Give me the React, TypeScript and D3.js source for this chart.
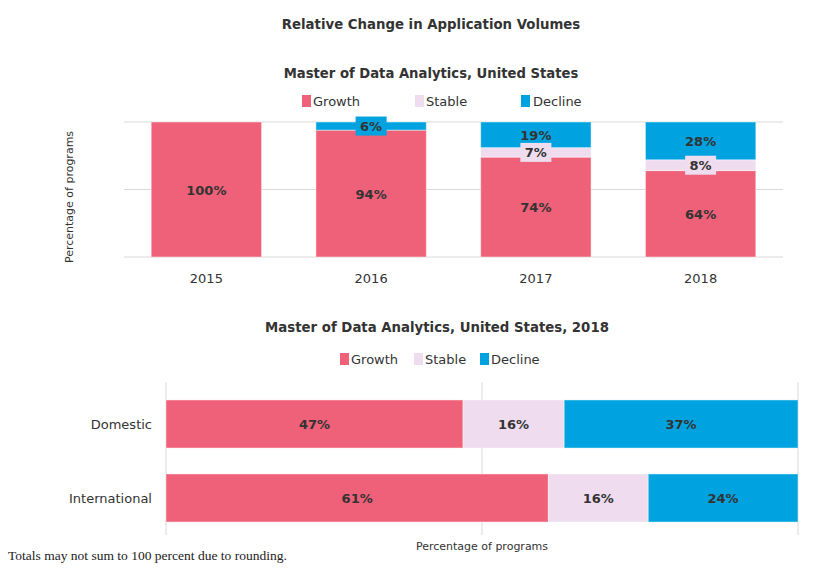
import React from "react";
import * as d3 from "d3";

const years = ["2015", "2016", "2017", "2018"];
const growthByYear = [100, 94, 74, 64];
const stableByYear = [0, 0, 7, 8];
const declineByYear = [0, 6, 19, 28];

const origins = ["Domestic", "International"];
const growthByOrigin = [47, 60.5];
const stableByOrigin = [16, 15.8];
const declineByOrigin = [37, 23.7];

const seriesNames = ["Growth", "Stable", "Decline"];
const colors = ["#EF6178", "#EFDCEF", "#00A3E0"];
const gridTicks = [0, 50, 100];

const FONT = "'DejaVu Sans', Verdana, sans-serif";
const TEXT = "#333333";

export default function App() {
  const W = 831, H = 573;

  // top chart
  const x1 = d3.scaleBand<string>().domain(years).range([124, 783]).paddingInner(0.33).paddingOuter(0.165);
  const y1 = d3.scaleLinear().domain([0, 100]).range([257, 122]);
  const topTable = years.map((yr, i) => ({ key: yr, Growth: growthByYear[i], Stable: stableByYear[i], Decline: declineByYear[i] }));
  const topStack = d3.stack<any>().keys(seriesNames)(topTable);

  // bottom chart
  const x2 = d3.scaleLinear().domain([0, 100]).range([166, 798]);
  const y2 = d3.scaleBand<string>().domain(origins).range([387, 535]).paddingInner(0.35).paddingOuter(0.175);
  const botTable = origins.map((o, i) => ({ key: o, Growth: growthByOrigin[i], Stable: stableByOrigin[i], Decline: declineByOrigin[i] }));
  const botStack = d3.stack<any>().keys(seriesNames)(botTable);

  const legendTop = [
    { x: 302, tx: 313 },
    { x: 415, tx: 426 },
    { x: 521, tx: 533 },
  ];
  const legendBot = [
    { x: 340, tx: 351 },
    { x: 414, tx: 425 },
    { x: 480, tx: 491 },
  ];

  return (
    <svg width={W} height={H} style={{ position: "absolute", left: 0, top: 0 }} fontFamily={FONT}>
      <rect width={W} height={H} fill="#fff" />
      <text x={431} y={29} textAnchor="middle" fontWeight="bold" fontSize={13.3} fill={TEXT}>
        Relative Change in Application Volumes
      </text>
      <text x={431} y={78} textAnchor="middle" fontWeight="bold" fontSize={13.2} fill={TEXT}>
        Master of Data Analytics, United States
      </text>
      {seriesNames.map((s, i) => (
        <g key={s}>
          <rect x={legendTop[i].x} y={95} width={9} height={12} fill={colors[i]} />
          <text x={legendTop[i].tx} y={106} fontSize={13} fill={TEXT}>{s}</text>
        </g>
      ))}
      {gridTicks.map((t) => (
        <line key={t} x1={124} x2={783} y1={y1(t)} y2={y1(t)} stroke="#d9d9d9" strokeWidth={1} />
      ))}
      <text transform={`translate(73,197) rotate(-90)`} textAnchor="middle" fontSize={11} fill={TEXT}>
        Percentage of programs
      </text>
      {topStack.map((layer, si) =>
        layer.map((d, i) => {
          const v = d[1] - d[0];
          if (v <= 0) return null;
          return (
            <rect key={`${si}-${i}`} x={x1(years[i])!} width={x1.bandwidth()} y={y1(d[1])} height={y1(d[0]) - y1(d[1])}
              fill={colors[si]} stroke="#ffffff" strokeOpacity={0.45} strokeWidth={1} />
          );
        })
      )}
      {topStack.map((layer, si) =>
        layer.map((d, i) => {
          const v = d[1] - d[0];
          if (v <= 0) return null;
          const cx = x1(years[i])! + x1.bandwidth() / 2;
          const cy = (y1(d[0]) + y1(d[1])) / 2;
          const label = `${Math.round(v)}%`;
          return (
            <g key={`l${si}-${i}`}>
              {v < 10 && <rect x={cx - 15.5} y={cy - 9.5} width={31} height={19} fill={colors[si]} />}
              <text x={cx} y={cy + 5} textAnchor="middle" fontWeight="bold" fontSize={13} fill={TEXT}>{label}</text>
            </g>
          );
        })
      )}
      {years.map((yr) => (
        <text key={yr} x={x1(yr)! + x1.bandwidth() / 2} y={283} textAnchor="middle" fontSize={13} fill={TEXT}>{yr}</text>
      ))}

      <text x={437} y={332} textAnchor="middle" fontWeight="bold" fontSize={13.3} fill={TEXT}>
        Master of Data Analytics, United States, 2018
      </text>
      {seriesNames.map((s, i) => (
        <g key={`b${s}`}>
          <rect x={legendBot[i].x} y={353} width={9} height={12} fill={colors[i]} />
          <text x={legendBot[i].tx} y={364} fontSize={13} fill={TEXT}>{s}</text>
        </g>
      ))}
      {gridTicks.map((t) => (
        <line key={`v${t}`} x1={x2(t)} x2={x2(t)} y1={382} y2={535} stroke="#d9d9d9" strokeWidth={1} />
      ))}
      {botStack.map((layer, si) =>
        layer.map((d, i) => (
          <rect key={`b${si}-${i}`} x={x2(d[0])} width={x2(d[1]) - x2(d[0])} y={y2(origins[i])!} height={y2.bandwidth()}
            fill={colors[si]} stroke="#ffffff" strokeOpacity={0.45} strokeWidth={1} />
        ))
      )}
      {botStack.map((layer, si) =>
        layer.map((d, i) => (
          <text key={`bl${si}-${i}`} x={(x2(d[0]) + x2(d[1])) / 2} y={y2(origins[i])! + y2.bandwidth() / 2 + 5}
            textAnchor="middle" fontWeight="bold" fontSize={13} fill={TEXT}>{`${Math.round(d[1] - d[0])}%`}</text>
        ))
      )}
      {origins.map((o) => (
        <text key={o} x={152} y={y2(o)! + y2.bandwidth() / 2 + 5} textAnchor="end" fontSize={13} fill={TEXT}>{o}</text>
      ))}
      <text x={482} y={550} textAnchor="middle" fontSize={11} fill={TEXT}>Percentage of programs</text>
      <text x={8} y={560} fontSize={13.5} fontFamily="'Liberation Serif', 'Times New Roman', serif" fill="#222">
        Totals may not sum to 100 percent due to rounding.
      </text>
    </svg>
  );
}
